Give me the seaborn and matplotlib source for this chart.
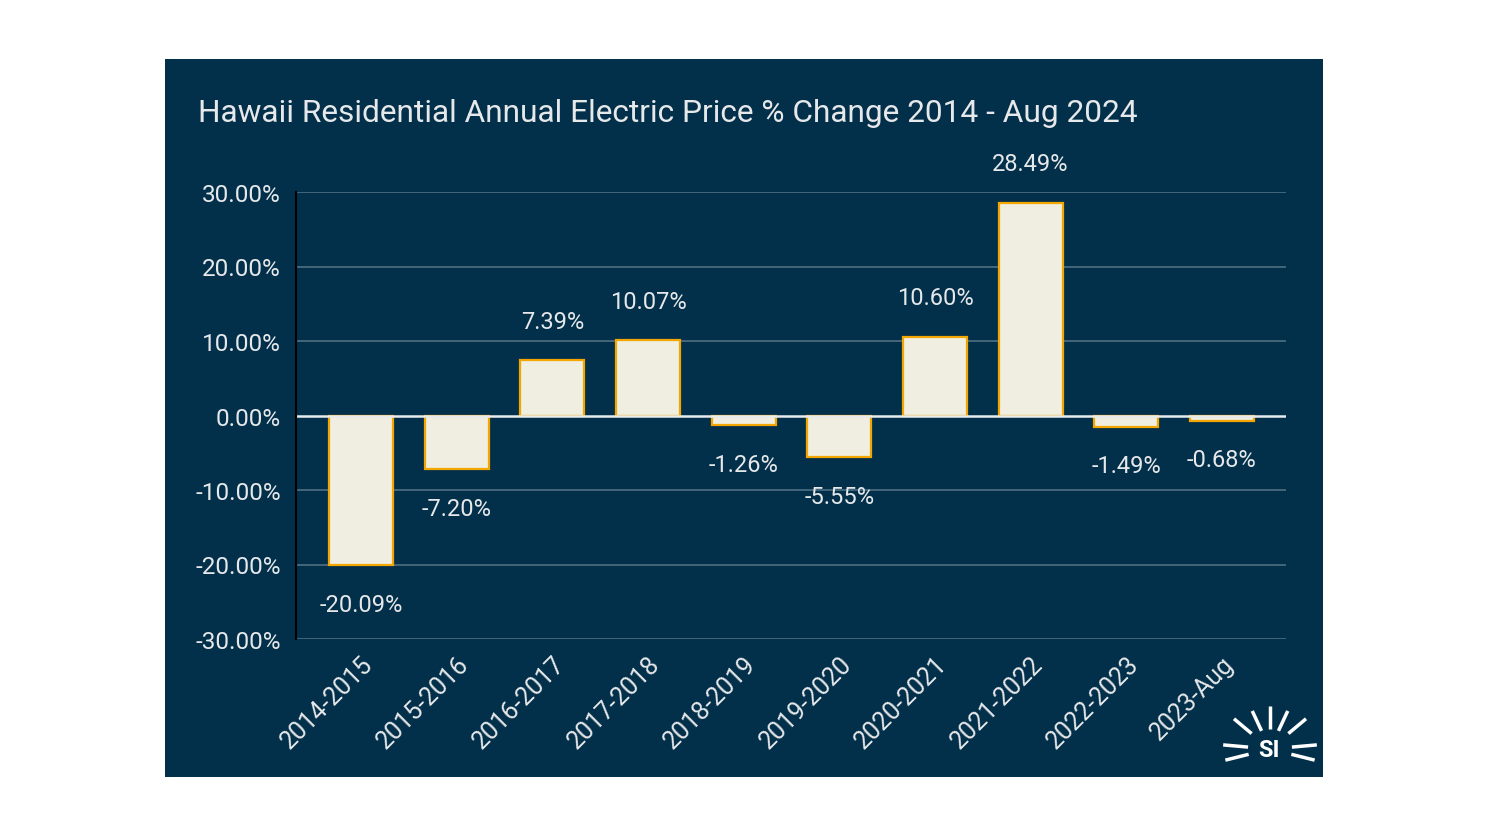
import matplotlib
matplotlib.use("Agg")
import matplotlib.pyplot as plt
import seaborn as sns
import pandas as pd
from matplotlib.patches import Rectangle
from matplotlib.lines import Line2D
import numpy as np

categories = ["2014-2015", "2015-2016", "2016-2017", "2017-2018", "2018-2019",
              "2019-2020", "2020-2021", "2021-2022", "2022-2023", "2023-Aug"]
pct_change = [-20.09, -7.20, 7.39, 10.07, -1.26, -5.55, 10.60, 28.49, -1.49, -0.68]
y_ticks = [-30, -20, -10, 0, 10, 20, 30]
title = "Hawaii Residential Annual Electric Price % Change 2014 - Aug 2024"

BG = "#02304a"
BAR = "#efeee0"
EDGE = "#f3a600"
TXT = "#e6e8ea"
GRID = "#4e6f82"

sns.set_theme(style="white")
plt.rcParams['font.family'] = ['Roboto', 'DejaVu Sans']

fig = plt.figure(figsize=(14.88, 8.37), dpi=100)
fig.patch.set_facecolor("white")
fig.add_artist(Rectangle((165/1488, 1-778/837), 1158/1488, 718/837,
                         transform=fig.transFigure, facecolor=BG, edgecolor="none", zorder=0))

ax = fig.add_axes([296/1488, 1-640/837, 990/1488, 447/837])
ax.set_facecolor(BG)
ax.patch.set_alpha(0)

df = pd.DataFrame({"cat": categories, "val": pct_change})
sns.barplot(data=df, x="cat", y="val", color=BAR, edgecolor=EDGE, linewidth=1.6,
            width=0.67, saturation=1, ax=ax, zorder=3)

ax.set_ylim(-30, 30)
ax.set_xlim(-0.68, 9.67)
ax.set_yticks(y_ticks)
ax.set_yticklabels([f"{t:.2f}%" for t in y_ticks], color=TXT, fontsize=17.5)
for t in y_ticks:
    ax.axhline(t, color=("#e8ecef" if t == 0 else GRID), lw=(1.8 if t == 0 else 1.2), zorder=(4 if t == 0 else 1))
ax.grid(False)
ax.set_xlabel("")
ax.set_ylabel("")
ax.tick_params(axis="y", length=0, pad=11)
ax.tick_params(axis="x", length=0, pad=9)
plt.setp(ax.get_xticklabels(), rotation=45, ha="right", rotation_mode="anchor",
         color=TXT, fontsize=18)
for s in ["top", "right", "bottom"]:
    ax.spines[s].set_visible(False)
ax.spines["left"].set_color("black")
ax.spines["left"].set_linewidth(1.5)
ax.spines["left"].set_zorder(5)

labels = [f"{v:.2f}%" for v in pct_change]
ax.bar_label(ax.containers[0], labels=labels, padding=20, color=TXT, fontsize=17)

fig.text(198/1488, 1-114/837, title, color=TXT, fontsize=22.8, va="center", ha="left")

# logo
cx, cy = 1270, 750
rays = [(90, 20, 43), (65, 20, 42), (115, 20, 42), (40, 24, 47), (140, 24, 47),
        (5, 22, 47), (175, 22, 47), (-14, 22, 46), (194, 22, 46)]
for ang, r0, r1 in rays:
    a = np.deg2rad(ang)
    x0, y0 = cx + r0*np.cos(a), cy - r0*np.sin(a)
    x1, y1 = cx + r1*np.cos(a), cy - r1*np.sin(a)
    fig.add_artist(Line2D([x0/1488, x1/1488], [1-y0/837, 1-y1/837], color="white",
                          lw=2.5, solid_capstyle="butt", transform=fig.transFigure))
fig.text(1269/1488, 1-751/837, "SI", color="white", fontsize=17, fontweight="bold",
         ha="center", va="center")

fig.savefig("out.png", dpi=100, facecolor="white")
